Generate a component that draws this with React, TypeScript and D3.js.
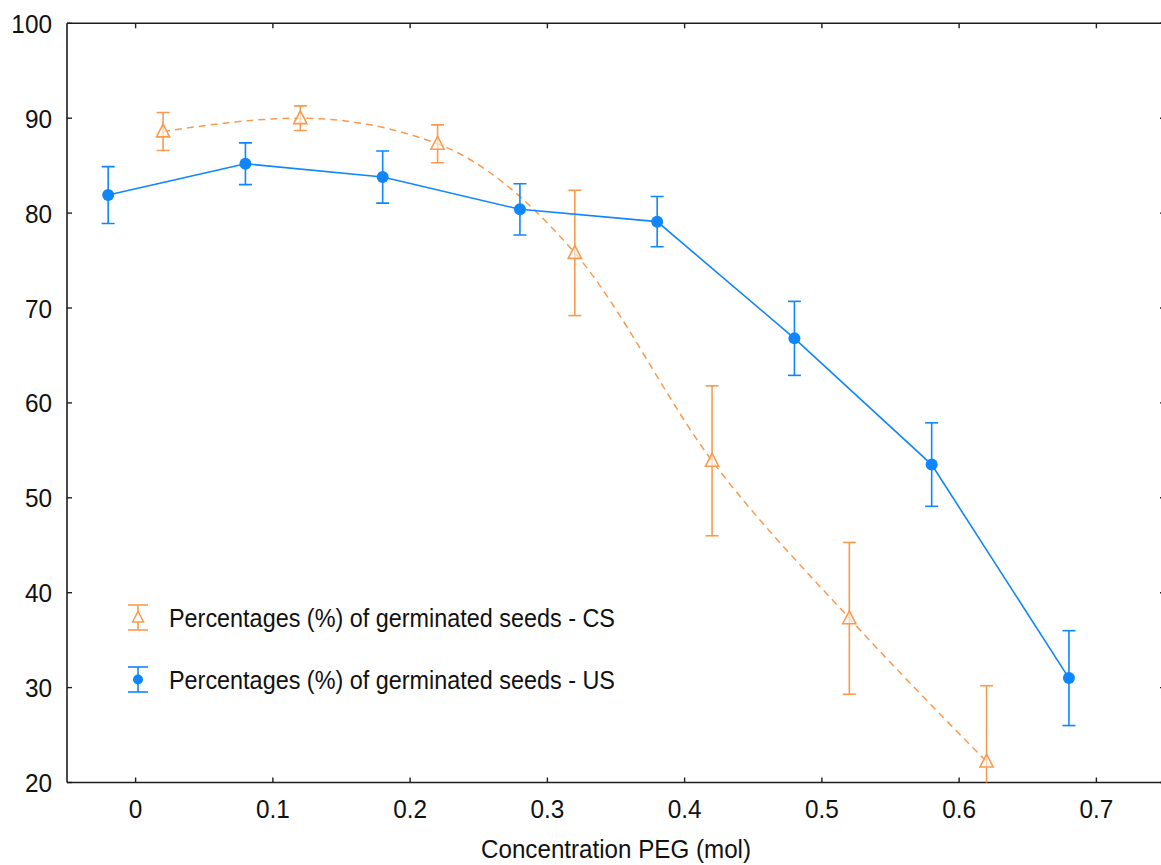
import React from "react";
import * as d3 from "d3";

// PEG concentration (mol) for each series
const usConc = [-0.02, 0.08, 0.18, 0.28, 0.38, 0.48, 0.58, 0.68];
const csConc = [0.02, 0.12, 0.22, 0.32, 0.42, 0.52, 0.62];

// Mean germination (%) and error half-widths
const usMean = [81.9, 85.2, 83.8, 80.4, 79.1, 66.8, 53.5, 31.0];
const usErr = [3.0, 2.2, 2.75, 2.7, 2.65, 3.9, 4.4, 5.0];
const csMean = [88.6, 90.0, 87.3, 75.8, 53.9, 37.3, 22.2];
const csErr = [2.0, 1.3, 2.0, 6.6, 7.9, 8.0, 8.0];

const xTicks = [0, 0.1, 0.2, 0.3, 0.4, 0.5, 0.6, 0.7];
const yTicks = [20, 30, 40, 50, 60, 70, 80, 90, 100];

const seriesNames = [
  "Percentages (%) of germinated seeds - CS",
  "Percentages (%) of germinated seeds - US",
];
const xTitle = "Concentration PEG (mol)";

const BLUE = "#0f86fb";
const ORANGE = "#fb9a4e";
const AXIS = "#1e1e1e";
const FONT = "'Liberation Sans', Arial, Helvetica, sans-serif";

const W = 1161;
const H = 865;
const left = 67;
const right = 1165;
const top = 23.3;
const bottom = 782.5;

type TProps = {
  x: number;
  y: number;
  size: number;
  sx: number;
  anchor?: "start" | "middle" | "end";
  children: React.ReactNode;
};

// Slightly narrowed sans-serif text
const Label = ({ x, y, size, sx, anchor = "start", children }: TProps) => (
  <text
    transform={`translate(${x},${y}) scale(${sx},1)`}
    fontFamily={FONT}
    fontSize={size}
    fill="#111"
    textAnchor={anchor}
  >
    {children}
  </text>
);

const triPath = (cx: number, cy: number, s: number) =>
  `M${cx},${cy - s * 0.62}L${cx + s * 0.55},${cy + s * 0.45}L${cx - s * 0.55},${cy + s * 0.45}Z`;

export default function App() {
  const x = d3.scaleLinear().domain([-0.05, 0.75]).range([left, right]);
  const y = d3.scaleLinear().domain([20, 100]).range([bottom, top]);

  const us = usConc.map((c, i) => ({ c, m: usMean[i], e: usErr[i] }));
  const cs = csConc.map((c, i) => ({ c, m: csMean[i], e: csErr[i] }));

  const usLine = d3
    .line<{ c: number; m: number }>()
    .x((d) => x(d.c))
    .y((d) => y(d.m))
    .curve(d3.curveLinear);
  const csLine = d3
    .line<{ c: number; m: number }>()
    .x((d) => x(d.c))
    .y((d) => y(d.m))
    .curve(d3.curveMonotoneX);

  const cap = 6.5;
  const tick = 5;

  const errorBar = (cx: number, lo: number, hi: number, color: string, key: string, halfCap = cap) => (
    <g key={key} stroke={color} strokeWidth={1.6} fill="none">
      <line x1={cx} x2={cx} y1={lo} y2={hi} />
      <line x1={cx - halfCap} x2={cx + halfCap} y1={lo} y2={lo} />
      <line x1={cx - halfCap} x2={cx + halfCap} y1={hi} y2={hi} />
    </g>
  );

  const legendY = [617.5, 679.5];
  const legendX = 138;

  return (
    <svg
      width={W}
      height={H}
      style={{ position: "absolute", left: 0, top: 0, background: "#fff" }}
    >
      <rect x={0} y={0} width={W} height={H} fill="#fff" />
      <defs>
        <clipPath id="plotArea">
          <rect x={left} y={top} width={right - left} height={bottom - top} />
        </clipPath>
      </defs>

      {/* frame */}
      <g stroke={AXIS} strokeWidth={1.6} fill="none">
        <line x1={left} x2={right} y1={bottom} y2={bottom} />
        <line x1={left} x2={right} y1={top} y2={top} />
        <line x1={left} x2={left} y1={top} y2={bottom} />
        <line x1={right} x2={right} y1={top} y2={bottom} />
      </g>

      {/* ticks, pointing inward on all four sides */}
      <g stroke={AXIS} strokeWidth={1.4}>
        {xTicks.map((t) => (
          <g key={`xt${t}`}>
            <line x1={x(t)} x2={x(t)} y1={bottom} y2={bottom - tick} />
            <line x1={x(t)} x2={x(t)} y1={top} y2={top + tick} />
          </g>
        ))}
        {yTicks.map((t) => (
          <g key={`yt${t}`}>
            <line x1={left} x2={left + tick} y1={y(t)} y2={y(t)} />
            <line x1={right} x2={right - tick} y1={y(t)} y2={y(t)} />
          </g>
        ))}
      </g>

      {/* tick labels */}
      {yTicks.map((t) => (
        <Label key={`yl${t}`} x={52} y={y(t) + 9.5} size={26.5} sx={0.92} anchor="end">
          {t}
        </Label>
      ))}
      {xTicks.map((t) => (
        <Label key={`xl${t}`} x={x(t)} y={818} size={26.5} sx={0.92} anchor="middle">
          {d3.format("")(+t.toFixed(1))}
        </Label>
      ))}
      <Label x={(left + right) / 2} y={858} size={26} sx={0.93} anchor="middle">
        {xTitle}
      </Label>

      <g clipPath="url(#plotArea)">
        {/* CS series: dashed smooth line, open triangles */}
        <path
          d={csLine(cs) || ""}
          fill="none"
          stroke={ORANGE}
          strokeWidth={1.5}
          strokeDasharray="7,5"
        />
        {cs.map((d, i) =>
          errorBar(x(d.c), y(d.m - d.e), y(d.m + d.e), ORANGE, `cse${i}`)
        )}
        {cs.map((d, i) => (
          <path
            key={`csm${i}`}
            d={triPath(x(d.c), y(d.m), 12)}
            fill="#fff"
            fillOpacity={0.6}
            stroke={ORANGE}
            strokeWidth={1.6}
          />
        ))}

        {/* US series: solid line, filled circles */}
        <path d={usLine(us) || ""} fill="none" stroke={BLUE} strokeWidth={1.6} />
        {us.map((d, i) =>
          errorBar(x(d.c), y(d.m - d.e), y(d.m + d.e), BLUE, `use${i}`)
        )}
        {us.map((d, i) => (
          <circle key={`usm${i}`} cx={x(d.c)} cy={y(d.m)} r={6} fill={BLUE} />
        ))}
      </g>

      {/* legend */}
      <g>
        {errorBar(legendX, legendY[0] + 12.5, legendY[0] - 12.5, ORANGE, "lg0", 10)}
        <path
          d={triPath(legendX, legendY[0], 10)}
          fill="#fff"
          stroke={ORANGE}
          strokeWidth={1.5}
        />
        <Label x={169} y={legendY[0] + 9} size={25.3} sx={0.925}>
          {seriesNames[0]}
        </Label>

        {errorBar(legendX, legendY[1] + 12.5, legendY[1] - 12.5, BLUE, "lg1", 10)}
        <circle cx={legendX} cy={legendY[1]} r={5} fill={BLUE} />
        <Label x={169} y={legendY[1] + 9} size={25.3} sx={0.925}>
          {seriesNames[1]}
        </Label>
      </g>
    </svg>
  );
}
